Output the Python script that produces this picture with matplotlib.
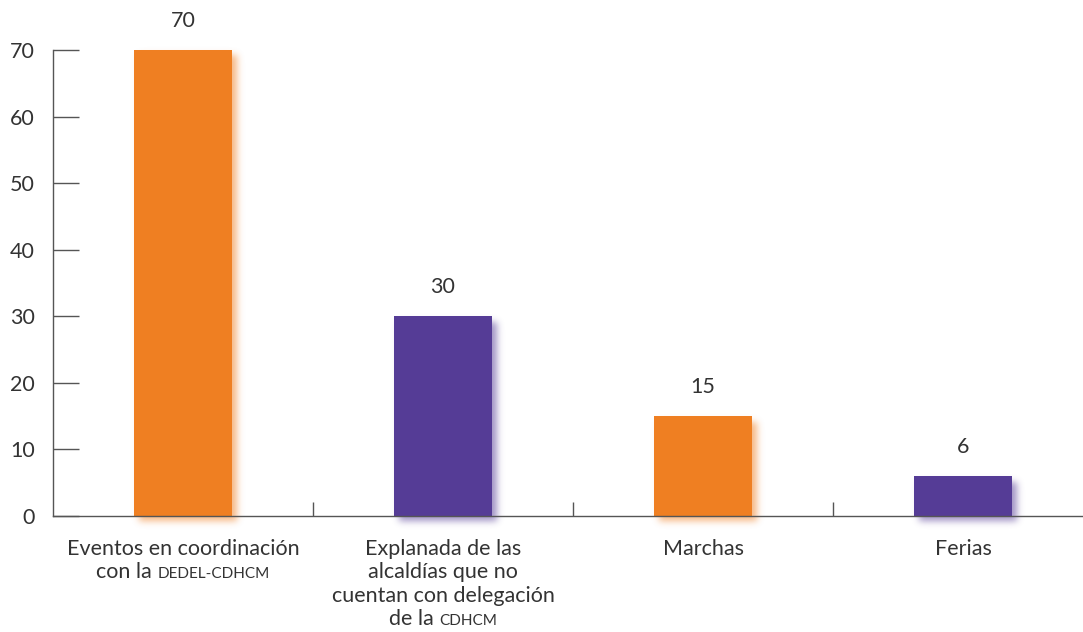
import matplotlib
matplotlib.use("Agg")
import matplotlib.pyplot as plt
import matplotlib.colors as mcolors
import numpy as np
from matplotlib.offsetbox import TextArea, HPacker, VPacker, AnnotationBbox

categorias = ["Eventos", "Explanada", "Marchas", "Ferias"]
valores = [70, 30, 15, 6]
colores = ["#EF7F22", "#553C96", "#EF7F22", "#553C96"]
# cada etiqueta: lista de lineas, cada linea lista de (texto, versalita)
etiquetas = [
    [[("Eventos en coordinación", False)], [("con la ", False), ("DEDEL-CDHCM", True)]],
    [[("Explanada de las", False)], [("alcaldías que no", False)],
     [("cuentan con delegación", False)], [("de la ", False), ("CDHCM", True)]],
    [[("Marchas", False)]],
    [[("Ferias", False)]],
]
yticks = [0, 10, 20, 30, 40, 50, 60, 70]

plt.rcParams['font.family'] = ['Lato', 'DejaVu Sans']
gris = "#333333"
linea = "#555555"
ancho = 0.38

fig = plt.figure(figsize=(10.83, 6.32), dpi=100)
ax = fig.add_axes([53/1083, 116/632, 1040/1083, 466/632])
ax.set_xlim(-0.5, 3.5)
ax.set_ylim(0, 70)

# pixeles por unidad de datos
ppx = 1040 / 4.0
ppy = 466 / 70.0


def sombra(xi, v, c, dx=5, dy=5, sigma=3.5, m=20):
    w = ancho * ppx
    h = v * ppy
    nx = int(w + 2 * m)
    ny = int(h + 2 * m)
    mask = np.zeros((ny, nx))
    mask[int(m - dy):int(m - dy + h), int(m + dx):int(m + dx + w)] = 1.0
    k = np.arange(-12, 13)
    g = np.exp(-k**2 / (2 * sigma**2))
    g /= g.sum()
    mask = np.apply_along_axis(lambda r: np.convolve(r, g, mode="same"), 1, mask)
    mask = np.apply_along_axis(lambda r: np.convolve(r, g, mode="same"), 0, mask)
    rgba = np.zeros((ny, nx, 4))
    rgba[..., :3] = mcolors.to_rgb(c)
    rgba[..., 3] = mask * 0.55
    left = xi - ancho / 2 - m / ppx
    bottom = -m / ppy
    ax.imshow(rgba, extent=(left, left + nx / ppx, bottom, bottom + ny / ppy),
              origin="lower", aspect="auto", interpolation="bilinear",
              zorder=1, clip_on=False)


x = list(range(len(categorias)))
for xi, v, c in zip(x, valores, colores):
    sombra(xi, v, c)
    ax.bar(xi, v, width=ancho, color=c, zorder=2)
    ax.annotate(str(v), (xi, v), xytext=(0, 29), textcoords="offset pixels",
                ha="center", va="center", fontsize=15.5, color=gris)

ax.set_xlim(-0.5, 3.5)
ax.set_ylim(0, 70)
for s in ["top", "right"]:
    ax.spines[s].set_visible(False)
ax.spines["left"].set_color(linea)
ax.spines["bottom"].set_color(linea)
ax.spines["left"].set_linewidth(1)
ax.spines["bottom"].set_linewidth(1)
ax.spines["bottom"].set_zorder(3)

ax.set_yticks(yticks)
ax.set_yticklabels([str(t) for t in yticks], fontsize=15.5, color=gris)
ax.tick_params(axis="y", direction="in", length=19, width=1, color=linea, pad=13)
ax.set_xticks([0.5, 1.5, 2.5])
ax.set_xticklabels([])
ax.tick_params(axis="x", direction="in", length=10, width=1, color=linea)

for xi, lineas in zip(x, etiquetas):
    filas = []
    for partes in lineas:
        cajas = [TextArea(t, textprops=dict(fontsize=(11 if sc else 15.5), color=gris))
                 for t, sc in partes]
        filas.append(HPacker(children=cajas, align="baseline", pad=0, sep=0))
    caja = VPacker(children=filas, align="center", pad=0, sep=2.5)
    ab = AnnotationBbox(caja, (xi, 0), xybox=(0, -23), boxcoords="offset pixels",
                        box_alignment=(0.5, 1), frameon=False, annotation_clip=False)
    ax.add_artist(ab)

fig.savefig("out.png", dpi=100)
